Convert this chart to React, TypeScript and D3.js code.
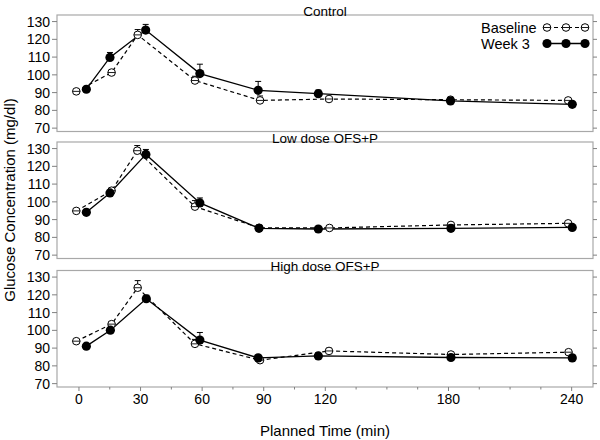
import { useEffect, useRef } from "react";
import * as d3 from "d3";

const panelTitles = ["Control", "Low dose OFS+P", "High dose OFS+P"];
const xTicks = [0, 30, 60, 90, 120, 180, 240];
const xMinorTicks = [15, 45, 75, 105, 135, 150, 165, 195, 210, 225];
const yTicks = [70, 80, 90, 100, 110, 120, 130];
const seriesNames = ["Baseline", "Week 3"];

// actual sampling times (min), one row per panel
const baselineTime = [
  [-1.3, 15.9, 28.6, 56.5, 88.2, 121.8, 181.0, 238.3],
  [-1.3, 15.9, 28.4, 56.5, 87.8, 122.0, 181.2, 238.3],
  [-1.3, 15.9, 28.6, 56.5, 88.2, 121.8, 181.2, 238.5],
];
const baselineMean = [
  [90.7, 101.3, 122.5, 96.8, 85.6, 86.4, 86.0, 85.6],
  [94.9, 106.3, 128.8, 97.3, 85.4, 85.3, 87.0, 87.9],
  [93.9, 103.5, 124.0, 92.4, 83.2, 88.4, 86.4, 87.7],
];
const baselineErr = [
  [0.8, 1.0, 3.0, 2.4, 2.5, 1.0, 1.0, 1.0],
  [1.0, 1.5, 2.9, 3.4, 1.5, 1.0, 1.0, 1.0],
  [1.0, 1.5, 4.0, 2.5, 1.2, 1.5, 1.0, 1.0],
];
const week3Time = [
  [3.6, 15.1, 32.5, 58.9, 87.3, 116.6, 181.0, 240.3],
  [3.6, 15.1, 32.6, 58.9, 87.7, 116.6, 181.2, 240.3],
  [3.6, 15.3, 32.8, 58.9, 87.3, 116.6, 181.2, 240.3],
];
const week3Mean = [
  [91.9, 109.8, 125.2, 100.7, 91.3, 89.4, 85.3, 83.4],
  [94.1, 105.0, 126.7, 99.4, 85.1, 84.7, 85.1, 85.6],
  [91.1, 100.1, 117.8, 94.5, 84.5, 85.6, 84.7, 84.5],
];
const week3Err = [
  [1.0, 2.8, 3.2, 5.3, 5.0, 2.0, 1.0, 1.0],
  [1.0, 1.5, 2.8, 2.8, 1.5, 1.0, 1.0, 1.0],
  [1.0, 1.0, 2.0, 4.3, 1.5, 1.0, 1.0, 1.0],
];

const width = 600;
const height = 440;
const left = 57;
const right = 593;
const panelTops = [15, 142, 270.5];
const panelH = 116.5;
const font = "'Liberation Sans', Arial, Helvetica, sans-serif";
const frame = "#a8a8a8";
const tickCol = "#808080";

type Pt = { t: number; v: number; e: number };

const App = () => {
  const svgRef = useRef<SVGSVGElement>(null);

  useEffect(() => {
    const svg = d3.select(svgRef.current);
    svg.selectAll("*").remove();

    const x = d3.scaleLinear().domain([-10.7, 250.4]).range([left, right]);

    const drawOpen = (g: any, cx: number, cy: number) => {
      g.append("circle").attr("cx", cx).attr("cy", cy).attr("r", 3.8)
        .attr("fill", "white").attr("stroke", "black").attr("stroke-width", 1);
      g.append("line").attr("x1", cx - 3.8).attr("x2", cx + 3.8)
        .attr("y1", cy).attr("y2", cy).attr("stroke", "black").attr("stroke-width", 0.9);
    };
    const drawFilled = (g: any, cx: number, cy: number) => {
      g.append("circle").attr("cx", cx).attr("cy", cy).attr("r", 4.6).attr("fill", "black");
    };

    panelTitles.forEach((title, p) => {
      const top = panelTops[p];
      const y = d3.scaleLinear().domain([68.1, 133.7]).range([top + panelH, top]);
      const g = svg.append("g");

      g.append("rect").attr("x", left).attr("y", top)
        .attr("width", right - left).attr("height", panelH)
        .attr("fill", "white").attr("stroke", frame).attr("stroke-width", 1.2);

      // strip title
      g.append("text").attr("x", (left + right) / 2).attr("y", top + 0.5)
        .attr("text-anchor", "middle").attr("font-family", font)
        .attr("font-size", 13.5).text(title);

      // y ticks left + right
      yTicks.forEach(v => {
        g.append("line").attr("x1", left - 5).attr("x2", left)
          .attr("y1", y(v)).attr("y2", y(v)).attr("stroke", tickCol);
        g.append("line").attr("x1", right).attr("x2", right + 4)
          .attr("y1", y(v)).attr("y2", y(v)).attr("stroke", tickCol);
        g.append("text").attr("x", left - 7).attr("y", y(v))
          .attr("dy", "0.36em").attr("text-anchor", "end")
          .attr("font-family", font).attr("font-size", 14).text(v);
      });

      const base: Pt[] = baselineMean[p].map((v, i) => ({ t: baselineTime[p][i], v, e: baselineErr[p][i] }));
      const wk: Pt[] = week3Mean[p].map((v, i) => ({ t: week3Time[p][i], v, e: week3Err[p][i] }));

      const line = d3.line<Pt>().x(d => x(d.t)).y(d => y(d.v));

      g.append("path").attr("d", line(base)).attr("fill", "none")
        .attr("stroke", "black").attr("stroke-width", 1.2).attr("stroke-dasharray", "4,3");
      g.append("path").attr("d", line(wk)).attr("fill", "none")
        .attr("stroke", "black").attr("stroke-width", 1.3);

      [base, wk].forEach(ser => {
        ser.forEach(d => {
          const cx = x(d.t);
          g.append("line").attr("x1", cx).attr("x2", cx)
            .attr("y1", y(d.v)).attr("y2", y(d.v + d.e)).attr("stroke", "black").attr("stroke-width", 1);
          g.append("line").attr("x1", cx - 3).attr("x2", cx + 3)
            .attr("y1", y(d.v + d.e)).attr("y2", y(d.v + d.e)).attr("stroke", "black").attr("stroke-width", 1);
        });
      });

      base.forEach(d => drawOpen(g, x(d.t), y(d.v)));
      wk.forEach(d => drawFilled(g, x(d.t), y(d.v)));
    });

    // x axis at bottom panel
    const bottom = panelTops[2] + panelH;
    const ax = svg.append("g");
    xTicks.forEach(t => {
      ax.append("line").attr("x1", x(t)).attr("x2", x(t))
        .attr("y1", bottom).attr("y2", bottom + 4).attr("stroke", tickCol);
      ax.append("text").attr("x", x(t)).attr("y", 404)
        .attr("text-anchor", "middle").attr("font-family", font)
        .attr("font-size", 14).text(t);
    });
    xMinorTicks.forEach(t => {
      ax.append("line").attr("x1", x(t)).attr("x2", x(t))
        .attr("y1", bottom).attr("y2", bottom + 2.5).attr("stroke", tickCol);
    });

    svg.append("text").attr("x", (left + right) / 2).attr("y", 436)
      .attr("text-anchor", "middle").attr("font-family", font)
      .attr("font-size", 15).text("Planned Time (min)");

    svg.append("text").attr("transform", "translate(15,200) rotate(-90)")
      .attr("text-anchor", "middle").attr("font-family", font)
      .attr("font-size", 15).text("Glucose Concentration (mg/dl)");

    // legend
    const lg = svg.append("g");
    const symX = [547, 566, 585];
    seriesNames.forEach((name, i) => {
      const cy = 27.5 + i * 16;
      lg.append("text").attr("x", 481).attr("y", cy + 5)
        .attr("font-family", font).attr("font-size", 14.5).text(name);
      lg.append("line").attr("x1", symX[0]).attr("x2", symX[2])
        .attr("y1", cy).attr("y2", cy).attr("stroke", "black")
        .attr("stroke-width", i === 0 ? 1 : 1.3)
        .attr("stroke-dasharray", i === 0 ? "4,3" : null);
      symX.forEach(sx => (i === 0 ? drawOpen(lg, sx, cy) : drawFilled(lg, sx, cy)));
    });
  }, []);

  return (
    <svg ref={svgRef} width={width} height={height}
      style={{ position: "absolute", left: 0, top: 0, background: "white" }} />
  );
};

export default App;
